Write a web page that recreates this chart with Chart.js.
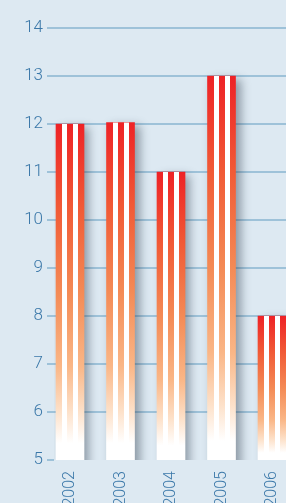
<!DOCTYPE html>
<html>
<head>
<meta charset="utf-8">
<script src="https://cdn.jsdelivr.net/npm/chart.js@4.4.1/dist/chart.umd.min.js"></script>
<style>
    html, body { margin: 0; padding: 0; background: #dde9f2; overflow: hidden; }
    #wrap { width: 286px; height: 503px; position: relative; }
</style>
</head>
<body>
<div id="wrap"><canvas id="grafico" width="286" height="503"></canvas></div>
<script>
// Datos del gráfico
const anios = [2002, 2003, 2004, 2005, 2006];
const valores = [12, 12.03, 11, 13, 8];
const ticksY = [5, 6, 7, 8, 9, 10, 11, 12, 13, 14];

const colorTexto = '#3b78a9';
const colorRejilla = '#9ec2d9';
const anchoBarra = 28;

// Degradado rojo -> blanco para cada barra
function degradadoBarra(context) {
    const chart = context.chart;
    if (!chart.chartArea) return '#ee2a24';
    const escalaY = chart.scales.y;
    const arriba = escalaY.getPixelForValue(context.raw.y);
    const abajo = escalaY.getPixelForValue(escalaY.min);
    const g = chart.ctx.createLinearGradient(0, arriba, 0, abajo);
    g.addColorStop(0, '#ee2226');
    g.addColorStop(0.25, '#f15a36');
    g.addColorStop(0.5, '#f48a55');
    g.addColorStop(0.72, '#fab686');
    g.addColorStop(0.86, '#fde2cb');
    g.addColorStop(0.95, '#ffffff');
    g.addColorStop(1, '#ffffff');
    return g;
}

// Sombra de las barras
const pluginSombra = {
    id: 'sombra',
    beforeDatasetsDraw(chart) {
        const ctx = chart.ctx;
        ctx.save();
        ctx.shadowColor = 'rgba(40, 55, 70, 0.45)';
        ctx.shadowBlur = 9;
        ctx.shadowOffsetX = 5;
        ctx.shadowOffsetY = 3;
    },
    afterDatasetsDraw(chart) {
        chart.ctx.restore();
    }
};

// Franjas blancas verticales dentro de cada barra
const pluginFranjas = {
    id: 'franjas',
    afterDraw(chart) {
        const ctx = chart.ctx;
        const area = chart.chartArea;
        ctx.save();
        ctx.fillStyle = '#ffffff';
        chart.getDatasetMeta(0).data.forEach(barra => {
            const izq = Math.round(barra.x - anchoBarra / 2);
            const alto = area.bottom - barra.y;
            ctx.fillRect(izq + 6, barra.y, 5, alto);
            ctx.fillRect(izq + 17, barra.y, 5, alto);
        });
        ctx.restore();
    }
};

new Chart(document.getElementById('grafico'), {
    type: 'bar',
    data: {
        datasets: [{
            data: anios.map((a, i) => ({ x: a, y: valores[i] })),
            backgroundColor: degradadoBarra,
            borderWidth: 0,
            barThickness: anchoBarra
        }]
    },
    options: {
        responsive: false,
        animation: false,
        events: [],
        layout: { padding: { top: 28, right: 0, left: 0, bottom: 0 } },
        plugins: { legend: { display: false }, tooltip: { enabled: false } },
        scales: {
            x: {
                type: 'linear',
                min: 2001.683,
                max: 2006.277,
                offset: false,
                afterBuildTicks(scale) { scale.ticks = anios.map(v => ({ value: v })); },
                afterFit(scale) {
                    scale.height = 43;
                    scale.paddingLeft = 0;
                    scale.paddingRight = 0;
                },
                grid: { display: false },
                border: { display: false },
                ticks: {
                    color: colorTexto,
                    font: { family: 'Roboto', size: 16, weight: 300 },
                    minRotation: 90,
                    maxRotation: 90,
                    autoSkip: false,
                    padding: 3,
                    callback: v => String(v)
                }
            },
            y: {
                min: 5,
                max: 14,
                afterBuildTicks(scale) { scale.ticks = ticksY.map(v => ({ value: v })); },
                afterFit(scale) { scale.width = 54; },
                border: { display: false },
                grid: {
                    color: c => c.tick && c.tick.value === 5 ? 'rgba(0,0,0,0)' : colorRejilla,
                    tickColor: colorRejilla,
                    lineWidth: 2,
                    tickLength: 7
                },
                ticks: {
                    color: colorTexto,
                    font: { family: 'Roboto', size: 17, weight: 300 },
                    padding: 4
                }
            }
        }
    },
    plugins: [pluginSombra, pluginFranjas]
});
</script>
</body>
</html>
